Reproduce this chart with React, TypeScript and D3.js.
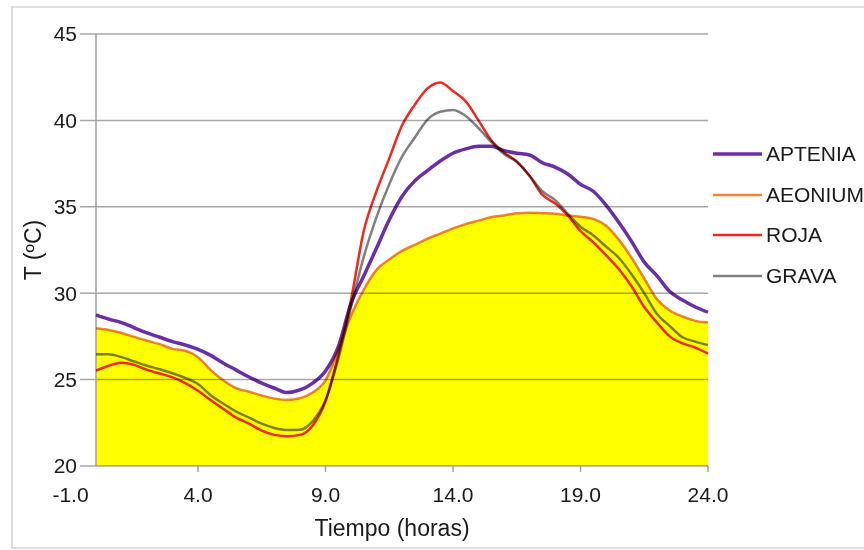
import React from "react";
import * as d3 from "d3";

const hours = [0, 0.5, 1, 1.5, 2, 2.5, 3, 3.5, 4, 4.5, 5, 5.5, 6, 6.5, 7, 7.5, 8, 8.5, 9, 9.5, 10, 10.5, 11, 11.5, 12, 12.5, 13, 13.5, 14, 14.5, 15, 15.5, 16, 16.5, 17, 17.5, 18, 18.5, 19, 19.5, 20, 20.5, 21, 21.5, 22, 22.5, 23, 23.5, 24];

const aptenia = [28.75, 28.5, 28.3, 28.0, 27.7, 27.45, 27.2, 27.0, 26.75, 26.4, 25.95, 25.55, 25.15, 24.8, 24.5, 24.25, 24.4, 24.8, 25.5, 26.9, 29.4, 31.0, 32.6, 34.25, 35.6, 36.5, 37.1, 37.65, 38.1, 38.35, 38.5, 38.5, 38.25, 38.1, 38.0, 37.55, 37.3, 36.9, 36.3, 35.9, 35.1, 34.1, 33.0, 31.8, 31.0, 30.1, 29.6, 29.2, 28.9];

const aeonium = [27.97, 27.87, 27.7, 27.47, 27.25, 27.05, 26.78, 26.67, 26.3, 25.55, 24.95, 24.5, 24.3, 24.08, 23.9, 23.82, 23.92, 24.25, 24.95, 26.7, 28.7, 30.2, 31.35, 31.95, 32.45, 32.8, 33.15, 33.45, 33.75, 34.0, 34.2, 34.4, 34.5, 34.62, 34.65, 34.63, 34.6, 34.5, 34.42, 34.3, 33.9, 33.1, 32.05, 30.85, 29.65, 29.0, 28.65, 28.4, 28.3];

const roja = [25.52, 25.8, 25.98, 25.85, 25.56, 25.35, 25.13, 24.8, 24.35, 23.8, 23.3, 22.8, 22.45, 22.05, 21.8, 21.72, 21.8, 22.35, 23.75, 26.4, 29.6, 33.6, 35.9, 37.8, 39.7, 40.9, 41.85, 42.2, 41.7, 41.1, 40.0, 38.85, 38.15, 37.62, 36.8, 35.7, 35.2, 34.5, 33.6, 32.95, 32.2, 31.4, 30.4, 29.2, 28.3, 27.5, 27.1, 26.85, 26.5];

const grava = [26.46, 26.46, 26.3, 26.05, 25.8, 25.6, 25.37, 25.1, 24.75, 24.1, 23.6, 23.15, 22.8, 22.45, 22.2, 22.08, 22.1, 22.6, 23.8, 26.2, 29.2, 32.1, 34.4, 36.3, 37.9, 39.0, 40.05, 40.5, 40.6, 40.25, 39.55, 38.75, 38.05, 37.6, 36.8, 35.9, 35.4, 34.6, 33.85, 33.35, 32.7, 32.05, 31.1, 30.0, 28.8, 28.1, 27.45, 27.2, 27.0];

const xTicks = [-1, 4, 9, 14, 19, 24];
const yTicks = [20, 25, 30, 35, 40, 45];
const seriesNames = ["APTENIA", "AEONIUM", "ROJA", "GRAVA"];

const FONT = "'Liberation Sans', Arial, sans-serif";

export default function App() {
  const W = 864;
  const H = 550;
  const x = d3.scaleLinear().domain([-1, 24]).range([70.5, 708]);
  const y = d3.scaleLinear().domain([20, 45]).range([466, 34]);

  const seriesData = [aptenia, aeonium, roja, grava];
  const colors = ["#6a2ea8", "#ee8236", "#f0281e", "#808080"];
  const widths = [3.5, 2.5, 2.5, 2.5];

  const line = (vals: number[]) =>
    d3
      .line<number>()
      .x((_, i) => x(hours[i]))
      .y((v) => y(v))
      .curve(d3.curveMonotoneX)(vals) || "";

  const area =
    d3
      .area<number>()
      .x((_, i) => x(hours[i]))
      .y0(y(20))
      .y1((v) => y(v))
      .curve(d3.curveMonotoneX)(aeonium) || "";

  const gx0 = x(0) - 16;
  const gx1 = x(24);
  const drawOrder = [0, 2, 3, 1];
  const legendY = [154, 195, 235, 276];

  return (
    <svg
      width={W}
      height={H}
      style={{ position: "absolute", left: 0, top: 0, background: "#fff" }}
      fontFamily={FONT}
    >
      <rect x={12} y={7} width={870} height={541} fill="#fff" stroke="#d4d4d4" strokeWidth={1.5} />
      <path d={area} fill="#ffff00" />
      {yTicks.map((t) => (
        <line
          key={"g" + t}
          x1={gx0}
          x2={gx1}
          y1={y(t)}
          y2={y(t)}
          stroke="#a8a8a8"
          strokeWidth={1.5}
          style={{ mixBlendMode: "multiply" }}
        />
      ))}
      <line x1={x(0)} x2={x(0)} y1={y(45)} y2={y(20)} stroke="#a0a0a0" strokeWidth={1.5} />
      {xTicks.map((t) =>
        t >= 0 ? (
          <line key={"t" + t} x1={x(t)} x2={x(t)} y1={y(20)} y2={y(20) + 6} stroke="#a0a0a0" strokeWidth={1.5} />
        ) : null
      )}
      {drawOrder.map((i) => (
        <path
          key={"l" + i}
          d={line(seriesData[i])}
          fill="none"
          stroke={colors[i]}
          strokeWidth={widths[i]}
          strokeLinejoin="round"
          style={{ mixBlendMode: "multiply" }}
        />
      ))}
      {yTicks.map((t) => (
        <text key={"yl" + t} x={77} y={y(t)} dy="0.35em" textAnchor="end" fontSize={21} fill="#1a1a1a">
          {t}
        </text>
      ))}
      {xTicks.map((t) => (
        <text key={"xl" + t} x={x(t)} y={502} textAnchor="middle" fontSize={21} fill="#1a1a1a">
          {t.toFixed(1)}
        </text>
      ))}
      <text x={392} y={536} textAnchor="middle" fontSize={23} fill="#1a1a1a">
        Tiempo (horas)
      </text>
      <text
        transform={`translate(41, ${(y(45) + y(20)) / 2}) rotate(-90)`}
        textAnchor="middle"
        fontSize={23}
        fill="#1a1a1a"
      >
        T (ºC)
      </text>
      {seriesNames.map((n, i) => (
        <g key={"lg" + n}>
          <line x1={713} x2={762} y1={legendY[i]} y2={legendY[i]} stroke={colors[i]} strokeWidth={widths[i]} />
          <text x={766} y={legendY[i]} dy="0.35em" fontSize={21} fill="#1a1a1a">
            {n}
          </text>
        </g>
      ))}
    </svg>
  );
}
